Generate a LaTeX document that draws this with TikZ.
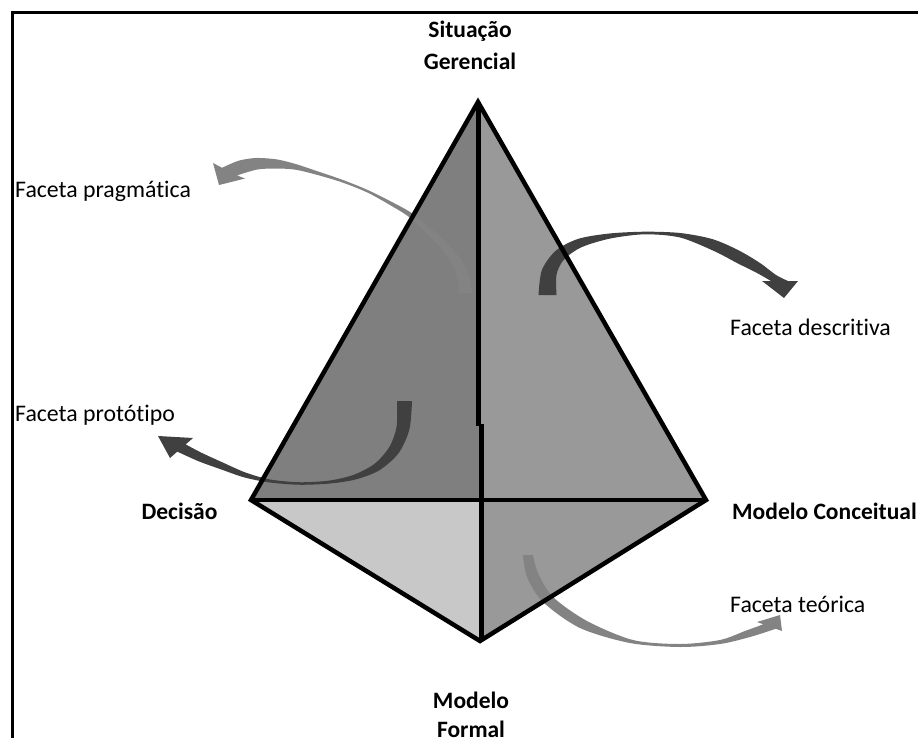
\documentclass[tikz,border=0pt]{standalone}
\usepackage{fontspec}
\setmainfont{Carlito}[Ligatures=NoCommon]
\definecolor{faceL}{HTML}{7F7F7F}
\definecolor{faceR}{HTML}{999999}
\definecolor{faceBL}{HTML}{C8C8C8}
\definecolor{faceBR}{HTML}{999999}
\definecolor{arrowdark}{HTML}{404040}
\definecolor{arrowgray}{HTML}{838383}
\begin{document}
\begin{tikzpicture}[x=1pt,y=-1pt,
  lbl/.style={inner sep=0pt, font=\fontsize{23.8}{30}\selectfont},
  blbl/.style={inner sep=0pt, align=center, font=\fontsize{23.5}{31}\selectfont\bfseries},
  pedge/.style={line width=4.5pt, line join=miter},
  vline/.style={line width=5pt},
  frameline/.style={line width=3pt},
  darkarrow/.style={fill=arrowdark},
  grayarrow/.style={fill=arrowgray}]
\useasboundingbox (0,0) rectangle (918,738);
\fill[white] (0,0) rectangle (918,738);
% frame
\coordinate (F1) at (12,738);
\coordinate (F2) at (12,13);
\coordinate (F3) at (918,13);
\draw[frameline] (F1) -- (F2) -- (F3);
% pyramid vertices
\coordinate (A) at (478,102);
\coordinate (L) at (251,500);
\coordinate (R) at (706,500);
\coordinate (B) at (480,641);
\coordinate (O) at (480,500);
\coordinate (J1) at (478.5,426);
\coordinate (J2) at (481,424);
\coordinate (Bv) at (481,641);
\coordinate (Av) at (478.5,102);
% faces
\fill[faceL] (A) -- (L) -- (O) -- cycle;
\fill[faceR] (A) -- (O) -- (R) -- cycle;
\fill[faceBL] (L) -- (O) -- (B) -- cycle;
\fill[faceBR] (O) -- (R) -- (B) -- cycle;
% arrow: faceta pragmatica
\fill[grayarrow] plot[smooth] coordinates {(472.5,293) (465,265.6) (445.9,242.3) (414.6,215.1) (390.9,201.5) (367.5,189.9) (342.4,179.8) (317.5,171.3) (296.6,164.3) (277.3,159.5) (256.6,158) (239,160.6) (222,167.8)}
  -- (213,163) -- (219,185) -- (245,178.5) --
  plot[smooth] coordinates {(237,175.4) (257.4,169.5) (276.7,168.5) (295.4,169.7) (316.5,174.7) (341.6,182.2) (366.5,192.1) (389.1,204.5) (411.5,219) (440.1,247.7) (455,270.4) (459.5,293)} -- cycle;
% arrow: faceta descritiva
\fill[darkarrow] plot[smooth] coordinates {(538.5,295) (541.9,270) (555.9,250.6) (578.4,238.8) (609.6,233.5) (645,231.7) (680,233) (712,239) (738,250) (760,263) (776,275) (788,281)}
  -- (798,281) -- (784,298) -- (762,281) --
  plot[smooth] coordinates {(771,281) (757,273) (737,263) (714,251) (680,237.5) (645,234.3) (610.4,238.5) (581.6,247.2) (564.1,259.4) (556.6,274.3) (556.5,295)} -- cycle;
% arrow: faceta prototipo
\fill[darkarrow] plot[smooth] coordinates {(412,401) (409.4,429.4) (398.6,453.1) (379.3,470.3) (355.8,479.4) (330.2,483.5) (300,484.75) (269.8,482.5) (244.3,477.4) (220.8,469.3) (198.2,461.1) (177.3,451.6)}
  -- (170,458) -- (158,436) -- (193,438) --
  plot[smooth] coordinates {(185.7,444.4) (201.8,452.9) (223.2,462.7) (245.7,472.6) (270.2,479.5) (300,482.25) (329.8,480.5) (354.2,474.6) (374.7,463.7) (389.4,446.9) (396.6,426.6) (397,401)} -- cycle;
% arrow: faceta teorica
\fill[grayarrow] plot[smooth] coordinates {(523,555) (527,577) (543,602) (580,628) (630,643) (680,647) (720,644) (750,637) (775.8,628.8)}
  -- (782,631) -- (780,615) -- (757,622) --
  plot[smooth] coordinates {(763.3,624.3) (745,631) (720,640) (680,644) (633,640) (587,621) (553,597) (538,573) (533,555)} -- cycle;
% edges
\draw[pedge] (A) -- (L) -- (B) -- (R) -- cycle;
\draw[pedge] (L) -- (R);
\draw[vline] (Av) -- (J1);
\draw[vline] (J2) -- (Bv);
% labels
\node[blbl, anchor=base] (sg) at (470,70) {Situação\\[1pt]Gerencial};
\node[blbl, anchor=base] (mf) at (471,737) {Modelo\\[-2pt]Formal};
\node[blbl, anchor=base] (dec) at (179.5,519) {Decisão};
\node[blbl, anchor=base west] (mc) at (732,519) {Modelo Conceitual};
\node[lbl, anchor=base west] (fp) at (15,197) {Faceta pragmática};
\node[lbl, anchor=base west] (fd) at (730,335) {Faceta descritiva};
\node[lbl, anchor=base west] (fpr) at (15,421) {Faceta protótipo};
\node[lbl, anchor=base west] (ft) at (730,612) {Faceta teórica};
\end{tikzpicture}
\end{document}
